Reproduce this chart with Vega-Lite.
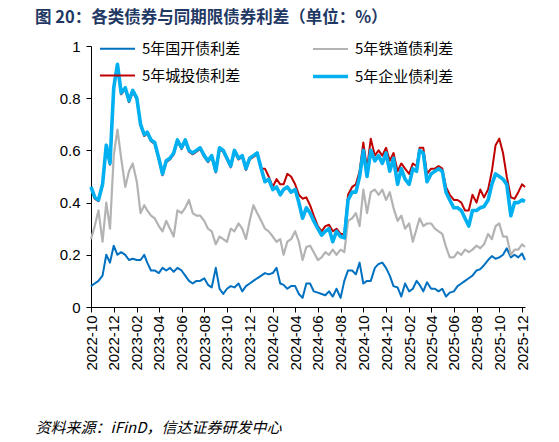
{
"$schema": "https://vega.github.io/schema/vega-lite/v6.json",
"autosize": {"type": "none"},
"padding": {"left": 91, "top": 46, "right": 34, "bottom": 135},
"width": 434,
"height": 261,
"background": "white",
"title": {"text": "图 20：各类债券与同期限债券利差（单位：%）", "anchor": "start", "frame": "group", "dx": -56, "offset": 4, "fontSize": 16.5, "fontWeight": "bold", "color": "#1F3864", "font": "Noto Sans CJK SC"},
"data": {"values": [
{"d":"2022-10-01","g":0.08,"t":0.26,"c":0.455,"q":0.46},
{"d":"2022-10-11","g":0.09,"t":0.31,"c":0.415,"q":0.42},
{"d":"2022-10-21","g":0.10,"t":0.37,"c":0.405,"q":0.41},
{"d":"2022-11-01","g":0.12,"t":0.25,"c":0.465,"q":0.47},
{"d":"2022-11-11","g":0.20,"t":0.40,"c":0.615,"q":0.62},
{"d":"2022-11-21","g":0.17,"t":0.30,"c":0.545,"q":0.55},
{"d":"2022-12-01","g":0.235,"t":0.58,"c":0.835,"q":0.84},
{"d":"2022-12-11","g":0.20,"t":0.68,"c":0.925,"q":0.93},
{"d":"2022-12-21","g":0.21,"t":0.57,"c":0.815,"q":0.82},
{"d":"2023-01-01","g":0.20,"t":0.46,"c":0.835,"q":0.84},
{"d":"2023-01-11","g":0.18,"t":0.52,"c":0.785,"q":0.79},
{"d":"2023-01-21","g":0.185,"t":0.55,"c":0.825,"q":0.83},
{"d":"2023-02-01","g":0.18,"t":0.48,"c":0.795,"q":0.80},
{"d":"2023-02-11","g":0.18,"t":0.36,"c":0.695,"q":0.70},
{"d":"2023-02-21","g":0.20,"t":0.39,"c":0.655,"q":0.66},
{"d":"2023-03-01","g":0.17,"t":0.37,"c":0.665,"q":0.67},
{"d":"2023-03-11","g":0.14,"t":0.35,"c":0.635,"q":0.64},
{"d":"2023-03-21","g":0.14,"t":0.34,"c":0.625,"q":0.63},
{"d":"2023-04-01","g":0.13,"t":0.31,"c":0.565,"q":0.57},
{"d":"2023-04-11","g":0.15,"t":0.29,"c":0.505,"q":0.51},
{"d":"2023-04-21","g":0.14,"t":0.33,"c":0.555,"q":0.56},
{"d":"2023-05-01","g":0.15,"t":0.30,"c":0.565,"q":0.57},
{"d":"2023-05-11","g":0.135,"t":0.27,"c":0.585,"q":0.59},
{"d":"2023-05-21","g":0.15,"t":0.37,"c":0.635,"q":0.64},
{"d":"2023-06-01","g":0.14,"t":0.36,"c":0.605,"q":0.61},
{"d":"2023-06-11","g":0.12,"t":0.38,"c":0.635,"q":0.64},
{"d":"2023-06-21","g":0.10,"t":0.41,"c":0.595,"q":0.60},
{"d":"2023-07-01","g":0.09,"t":0.36,"c":0.585,"q":0.59},
{"d":"2023-07-11","g":0.10,"t":0.35,"c":0.595,"q":0.60},
{"d":"2023-07-21","g":0.10,"t":0.35,"c":0.605,"q":0.61},
{"d":"2023-08-01","g":0.11,"t":0.33,"c":0.575,"q":0.58},
{"d":"2023-08-11","g":0.085,"t":0.30,"c":0.555,"q":0.56},
{"d":"2023-08-21","g":0.075,"t":0.29,"c":0.575,"q":0.58},
{"d":"2023-09-01","g":0.15,"t":0.24,"c":0.515,"q":0.52},
{"d":"2023-09-11","g":0.07,"t":0.27,"c":0.605,"q":0.61},
{"d":"2023-09-21","g":0.05,"t":0.26,"c":0.595,"q":0.60},
{"d":"2023-10-01","g":0.07,"t":0.25,"c":0.565,"q":0.57},
{"d":"2023-10-11","g":0.08,"t":0.30,"c":0.535,"q":0.54},
{"d":"2023-10-21","g":0.075,"t":0.29,"c":0.595,"q":0.60},
{"d":"2023-11-01","g":0.09,"t":0.32,"c":0.565,"q":0.57},
{"d":"2023-11-11","g":0.06,"t":0.30,"c":0.575,"q":0.58},
{"d":"2023-11-21","g":0.08,"t":0.26,"c":0.525,"q":0.53},
{"d":"2023-12-01","g":0.09,"t":0.33,"c":0.565,"q":0.57},
{"d":"2023-12-11","g":0.10,"t":0.39,"c":0.575,"q":0.58},
{"d":"2023-12-21","g":0.11,"t":0.36,"c":0.585,"q":0.59},
{"d":"2024-01-01","g":0.12,"t":0.33,"c":0.53,"q":0.53},
{"d":"2024-01-11","g":0.13,"t":0.30,"c":0.53,"q":0.48},
{"d":"2024-01-21","g":0.125,"t":0.29,"c":0.50,"q":0.49},
{"d":"2024-02-01","g":0.13,"t":0.27,"c":0.46,"q":0.45},
{"d":"2024-02-11","g":0.15,"t":0.25,"c":0.49,"q":0.46},
{"d":"2024-02-21","g":0.09,"t":0.26,"c":0.47,"q":0.43},
{"d":"2024-03-01","g":0.085,"t":0.20,"c":0.47,"q":0.45},
{"d":"2024-03-11","g":0.07,"t":0.25,"c":0.51,"q":0.46},
{"d":"2024-03-21","g":0.08,"t":0.26,"c":0.50,"q":0.44},
{"d":"2024-04-01","g":0.08,"t":0.29,"c":0.47,"q":0.45},
{"d":"2024-04-11","g":0.05,"t":0.25,"c":0.43,"q":0.40},
{"d":"2024-04-21","g":0.035,"t":0.18,"c":0.415,"q":0.34},
{"d":"2024-05-01","g":0.09,"t":0.23,"c":0.42,"q":0.38},
{"d":"2024-05-11","g":0.09,"t":0.235,"c":0.39,"q":0.36},
{"d":"2024-05-21","g":0.06,"t":0.21,"c":0.35,"q":0.33},
{"d":"2024-06-01","g":0.055,"t":0.18,"c":0.31,"q":0.30},
{"d":"2024-06-11","g":0.05,"t":0.19,"c":0.29,"q":0.275},
{"d":"2024-06-21","g":0.045,"t":0.21,"c":0.31,"q":0.29},
{"d":"2024-07-01","g":0.06,"t":0.20,"c":0.315,"q":0.30},
{"d":"2024-07-11","g":0.04,"t":0.22,"c":0.29,"q":0.25},
{"d":"2024-07-21","g":0.07,"t":0.20,"c":0.30,"q":0.29},
{"d":"2024-08-01","g":0.035,"t":0.22,"c":0.28,"q":0.27},
{"d":"2024-08-11","g":0.10,"t":0.21,"c":0.28,"q":0.265},
{"d":"2024-08-21","g":0.14,"t":0.33,"c":0.43,"q":0.41},
{"d":"2024-09-01","g":0.14,"t":0.34,"c":0.46,"q":0.44},
{"d":"2024-09-11","g":0.125,"t":0.36,"c":0.47,"q":0.44},
{"d":"2024-09-21","g":0.17,"t":0.31,"c":0.52,"q":0.50},
{"d":"2024-10-01","g":0.09,"t":0.45,"c":0.63,"q":0.60},
{"d":"2024-10-11","g":0.10,"t":0.36,"c":0.53,"q":0.50},
{"d":"2024-10-21","g":0.10,"t":0.44,"c":0.645,"q":0.60},
{"d":"2024-11-01","g":0.15,"t":0.45,"c":0.58,"q":0.56},
{"d":"2024-11-11","g":0.165,"t":0.43,"c":0.60,"q":0.58},
{"d":"2024-11-21","g":0.17,"t":0.45,"c":0.58,"q":0.55},
{"d":"2024-12-01","g":0.15,"t":0.41,"c":0.61,"q":0.59},
{"d":"2024-12-11","g":0.12,"t":0.44,"c":0.56,"q":0.52},
{"d":"2024-12-21","g":0.08,"t":0.38,"c":0.59,"q":0.57},
{"d":"2025-01-01","g":0.075,"t":0.33,"c":0.52,"q":0.47},
{"d":"2025-01-11","g":0.04,"t":0.35,"c":0.55,"q":0.53},
{"d":"2025-01-21","g":0.09,"t":0.30,"c":0.53,"q":0.49},
{"d":"2025-02-01","g":0.06,"t":0.32,"c":0.51,"q":0.47},
{"d":"2025-02-11","g":0.07,"t":0.25,"c":0.55,"q":0.53},
{"d":"2025-02-21","g":0.10,"t":0.30,"c":0.54,"q":0.52},
{"d":"2025-03-01","g":0.085,"t":0.34,"c":0.61,"q":0.60},
{"d":"2025-03-11","g":0.06,"t":0.31,"c":0.61,"q":0.59},
{"d":"2025-03-21","g":0.095,"t":0.32,"c":0.51,"q":0.48},
{"d":"2025-04-01","g":0.07,"t":0.32,"c":0.53,"q":0.51},
{"d":"2025-04-11","g":0.07,"t":0.30,"c":0.53,"q":0.52},
{"d":"2025-04-21","g":0.06,"t":0.29,"c":0.54,"q":0.53},
{"d":"2025-05-01","g":0.07,"t":0.28,"c":0.53,"q":0.52},
{"d":"2025-05-11","g":0.04,"t":0.23,"c":0.46,"q":0.44},
{"d":"2025-05-21","g":0.055,"t":0.19,"c":0.43,"q":0.41},
{"d":"2025-06-01","g":0.06,"t":0.19,"c":0.41,"q":0.38},
{"d":"2025-06-11","g":0.08,"t":0.21,"c":0.41,"q":0.38},
{"d":"2025-06-21","g":0.09,"t":0.20,"c":0.40,"q":0.37},
{"d":"2025-07-01","g":0.10,"t":0.22,"c":0.37,"q":0.34},
{"d":"2025-07-11","g":0.11,"t":0.21,"c":0.37,"q":0.31},
{"d":"2025-07-21","g":0.12,"t":0.22,"c":0.43,"q":0.37},
{"d":"2025-08-01","g":0.14,"t":0.235,"c":0.40,"q":0.37},
{"d":"2025-08-11","g":0.145,"t":0.225,"c":0.45,"q":0.38},
{"d":"2025-08-21","g":0.16,"t":0.24,"c":0.42,"q":0.385},
{"d":"2025-09-01","g":0.18,"t":0.28,"c":0.45,"q":0.41},
{"d":"2025-09-11","g":0.195,"t":0.26,"c":0.52,"q":0.47},
{"d":"2025-09-21","g":0.185,"t":0.31,"c":0.62,"q":0.51},
{"d":"2025-10-01","g":0.19,"t":0.32,"c":0.645,"q":0.50},
{"d":"2025-10-11","g":0.20,"t":0.27,"c":0.59,"q":0.49},
{"d":"2025-10-21","g":0.225,"t":0.27,"c":0.50,"q":0.47},
{"d":"2025-11-01","g":0.19,"t":0.20,"c":0.42,"q":0.35},
{"d":"2025-11-11","g":0.20,"t":0.22,"c":0.415,"q":0.40},
{"d":"2025-11-21","g":0.19,"t":0.22,"c":0.44,"q":0.40},
{"d":"2025-12-01","g":0.205,"t":0.24,"c":0.47,"q":0.41},
{"d":"2025-12-09","g":0.18,"t":0.23,"c":0.46,"q":0.405}
]},
"transform": [{"fold": ["g", "t", "c", "q"], "as": ["key", "value"]}],
"mark": {"type": "line", "strokeJoin": "round"},
"encoding": {
  "x": {"field": "d", "type": "temporal",
    "scale": {"type": "utc", "domain": [{"year": 2022, "month": 10, "date": 1, "utc": true}, {"year": 2025, "month": 12, "date": 9, "utc": true}]},
    "axis": {
      "values": [
        {"year": 2022, "month": 10, "date": 1, "utc": true},
        {"year": 2022, "month": 12, "date": 1, "utc": true},
        {"year": 2023, "month": 2, "date": 1, "utc": true},
        {"year": 2023, "month": 4, "date": 1, "utc": true},
        {"year": 2023, "month": 6, "date": 1, "utc": true},
        {"year": 2023, "month": 8, "date": 1, "utc": true},
        {"year": 2023, "month": 10, "date": 1, "utc": true},
        {"year": 2023, "month": 12, "date": 1, "utc": true},
        {"year": 2024, "month": 2, "date": 1, "utc": true},
        {"year": 2024, "month": 4, "date": 1, "utc": true},
        {"year": 2024, "month": 6, "date": 1, "utc": true},
        {"year": 2024, "month": 8, "date": 1, "utc": true},
        {"year": 2024, "month": 10, "date": 1, "utc": true},
        {"year": 2024, "month": 12, "date": 1, "utc": true},
        {"year": 2025, "month": 2, "date": 1, "utc": true},
        {"year": 2025, "month": 4, "date": 1, "utc": true},
        {"year": 2025, "month": 6, "date": 1, "utc": true},
        {"year": 2025, "month": 8, "date": 1, "utc": true},
        {"year": 2025, "month": 10, "date": 1, "utc": true},
        {"year": 2025, "month": 12, "date": 1, "utc": true}
      ],
      "labelExpr": "utcFormat(datum.value, '%Y-%m')",
      "labelAngle": 270, "labelAlign": "right", "labelBaseline": "middle",
      "labelFont": "Liberation Sans", "labelFontSize": 15, "labelColor": "#000000",
      "labelPadding": 3, "labelOverlap": false, "labelFlush": false,
      "tickSize": 5, "tickColor": "#000000", "domainColor": "#000000", "grid": false,
      "title": "资料来源：iFinD，信达证券研发中心",
      "titleX": -56, "titleY": 113, "titleAnchor": "start", "titleAlign": "left", "titleBaseline": "top", "titleAngle": 0,
      "titleFont": "Noto Sans CJK SC", "titleFontSize": 15, "titleFontStyle": "italic", "titleFontWeight": "normal", "titleColor": "#000000"
    }
  },
  "y": {"field": "value", "type": "quantitative",
    "scale": {"domain": [0, 1], "nice": false, "zero": true},
    "axis": {"values": [0, 0.2, 0.4, 0.6, 0.8, 1], "format": ".1~f", "title": null, "grid": false,
      "labelFont": "Liberation Sans", "labelFontSize": 15, "labelColor": "#000000", "labelPadding": 6,
      "tickSize": 5, "tickColor": "#000000", "domainColor": "#000000"}
  },
  "color": {"field": "key", "type": "nominal",
    "scale": {"domain": ["g", "t", "c", "q"], "range": ["#0070C0", "#B3B3B3", "#C00000", "#00B0F0"]},
    "legend": {"title": null, "orient": "none", "legendX": 7, "legendY": -16, "columns": 2, "direction": "horizontal",
      "columnPadding": 64, "rowPadding": -14, "symbolType": "stroke", "symbolSize": 1225,
      "labelFont": "Noto Sans CJK SC", "labelFontSize": 15, "labelColor": "#000000", "labelOffset": 5, "labelLimit": 300,
      "labelExpr": "{'g':'5年国开债利差','t':'5年铁道债利差','c':'5年城投债利差','q':'5年企业债利差'}[datum.label]"}
  },
  "strokeWidth": {"field": "key", "type": "nominal",
    "scale": {"type": "ordinal", "domain": ["g", "t", "c", "q"], "range": [2, 2.2, 2, 3.6]}}
},
"config": {"view": {"stroke": null}, "font": "Liberation Sans"}
}
